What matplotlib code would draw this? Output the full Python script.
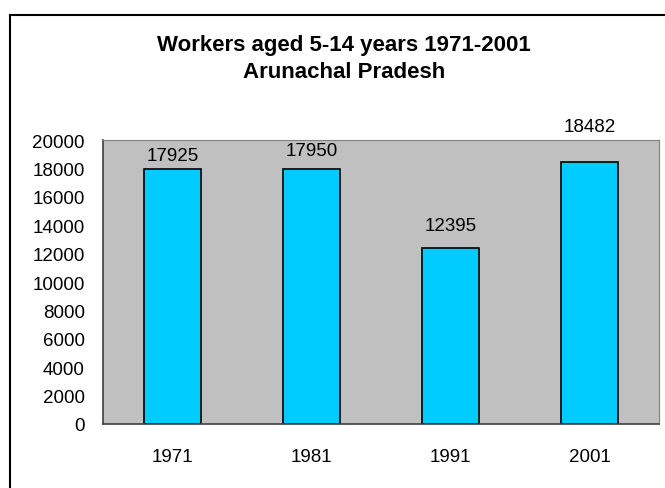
import matplotlib.pyplot as plt
from matplotlib.lines import Line2D

years = ["1971", "1981", "1991", "2001"]
workers = [17925, 17950, 12395, 18482]
yticks = list(range(0, 20001, 2000))

# gap between bar top and its label, in pixels (as in the original layout)
label_gap_px = [8, 13, 17, 29]

plt.rcParams['font.family'] = ['Liberation Sans', 'DejaVu Sans']

fig = plt.figure(figsize=(6.65, 4.89), dpi=100)
ax = fig.add_axes([103 / 665, 64 / 489, 556 / 665, 284 / 489])
ax.set_facecolor('#C0C0C0')

x = range(len(years))
bars = ax.bar(x, workers, width=0.41, color='#00CCFF', edgecolor='black', linewidth=1.2)
for b, v, g in zip(bars, workers, label_gap_px):
    ax.annotate(str(v), (b.get_x() + b.get_width() / 2, v), xytext=(0, g * 0.72 - 2),
                textcoords='offset points', ha='center', va='bottom', fontsize=13.5)

ax.set_xlim(-0.5, len(years) - 0.5)
ax.set_ylim(0, 20000)
ax.set_xticks(list(x))
ax.set_xticklabels(years)
ax.set_yticks(yticks)
ax.tick_params(length=0, labelsize=13.5)
ax.tick_params(axis='y', pad=13)
ax.tick_params(axis='x', pad=17)
ax.spines['right'].set_color('#808080')
ax.spines['top'].set_color('#808080')
ax.spines['left'].set_color('#404040')
ax.spines['bottom'].set_color('#404040')
ax.spines['left'].set_linewidth(1.2)
ax.spines['bottom'].set_linewidth(1.2)

fig.text(344 / 665, 1 - 59 / 489, "Workers aged 5-14 years 1971-2001\nArunachal Pradesh",
         ha='center', va='center', fontsize=16, fontweight='bold', linespacing=1.35)

# outer chart frame (clipped at right and bottom)
fig.add_artist(Line2D([10 / 665, 10 / 665], [0, 1 - 16 / 489], color='black', lw=1.5, transform=fig.transFigure))
fig.add_artist(Line2D([10 / 665, 1], [1 - 16 / 489, 1 - 16 / 489], color='black', lw=1.5, transform=fig.transFigure))

fig.savefig('out.png', dpi=100)
